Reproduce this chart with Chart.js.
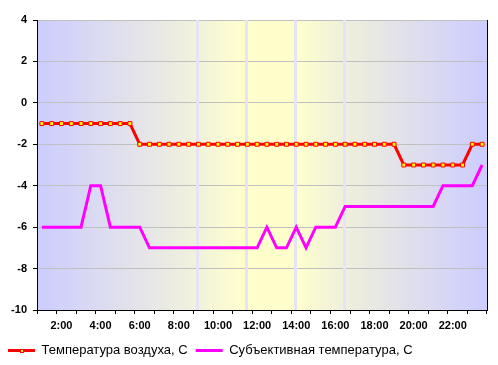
<!DOCTYPE html>
<html>
<head>
<meta charset="utf-8">
<script src="https://cdn.jsdelivr.net/npm/chart.js"></script>
<style>
  body { margin: 0; background: #fff; }
  canvas { display: block; }
</style>
</head>
<body>
<canvas id="tempChart" width="498" height="365"></canvas>
<script>
// half-hourly readings, 1:00 .. 23:30
const times = [];
for (let h = 1; h <= 23; h++) {
    times.push(h + ':00', h + ':30');
}

const airTemp = [
    -1, -1, -1, -1, -1, -1, -1, -1, -1, -1,
    -2, -2, -2, -2, -2, -2, -2, -2, -2, -2,
    -2, -2, -2, -2, -2, -2, -2, -2, -2, -2,
    -2, -2, -2, -2, -2, -2, -2,
    -3, -3, -3, -3, -3, -3, -3,
    -2, -2
];

const feltTemp = [
    -6, -6, -6, -6, -6, -4, -4, -6, -6, -6,
    -6, -7, -7, -7, -7, -7, -7, -7, -7, -7,
    -7, -7, -7, -6, -7, -7, -6, -7, -6, -6,
    -6, -5, -5, -5, -5, -5, -5, -5, -5, -5,
    -5, -4, -4, -4, -4, -3
];

const seriesNames = ['Температура воздуха, С', 'Субъективная температура, С'];
const yTicks = [-10, -8, -6, -4, -2, 0, 2, 4];

// light vertical bands in the plot background (category index units)
const bandMarks = [15.9, 20.9, 25.9, 30.9];

const tickFont = { family: 'Liberation Sans, Arial, sans-serif', size: 11, weight: 'bold' };

// Plot area background: blue at the edges, yellow around midday
const backgroundPlugin = {
    id: 'plotBackground',
    beforeDraw(chart) {
        const { ctx, chartArea: a } = chart;
        const g = ctx.createLinearGradient(a.left, 0, a.right, 0);
        g.addColorStop(0, '#ccccff');
        g.addColorStop(0.36, '#f2f2dc');
        g.addColorStop(0.46, '#ffffcc');
        g.addColorStop(0.57, '#ffffcc');
        g.addColorStop(0.68, '#f0f0dc');
        g.addColorStop(1, '#ccccff');
        ctx.save();
        ctx.fillStyle = g;
        ctx.fillRect(a.left, a.top, a.right - a.left, a.bottom - a.top);
        ctx.restore();
    },
    beforeDatasetsDraw(chart) {
        const { ctx, chartArea: a } = chart;
        const x = chart.scales.x;
        ctx.save();
        ctx.fillStyle = '#e4e4f6';
        bandMarks.forEach(v => {
            const px = Math.round(x.getPixelForValue(v));
            ctx.fillRect(px - 1, a.top, 3, a.bottom - a.top);
        });
        ctx.restore();
    },
    afterDatasetsDraw(chart) {
        const { ctx, chartArea: a } = chart;
        ctx.save();
        ctx.strokeStyle = '#000';
        ctx.lineWidth = 1;
        ctx.beginPath();
        ctx.moveTo(Math.round(a.right) + 0.5, a.top);
        ctx.lineTo(Math.round(a.right) + 0.5, a.bottom);
        ctx.stroke();
        ctx.restore();
    },
    afterDraw(chart) {
        // yellow marker in the middle of the first legend sample
        const box = chart.legend.legendHitBoxes[0];
        if (!box) return;
        const ctx = chart.ctx;
        const cx = Math.round(box.left + 13.5);
        const cy = Math.round(box.top + box.height / 2);
        ctx.save();
        ctx.fillStyle = '#ff0000';
        ctx.fillRect(cx - 2, cy - 2, 4, 4);
        ctx.fillStyle = '#ffff00';
        ctx.fillRect(cx - 1, cy - 1, 2, 2);
        ctx.restore();
    }
};

const ctx = document.getElementById('tempChart').getContext('2d');
const tempChart = new Chart(ctx, {
    type: 'line',
    data: {
        labels: times,
        datasets: [{
            label: seriesNames[0],
            data: airTemp,
            borderColor: '#ff0000',
            backgroundColor: '#ff0000',
            borderWidth: 3,
            pointStyle: 'rect',
            pointRadius: 2.8,
            pointBorderWidth: 1,
            pointBorderColor: '#ff0000',
            pointBackgroundColor: '#ffff00',
            tension: 0
        }, {
            label: seriesNames[1],
            data: feltTemp,
            borderColor: '#ff00ff',
            backgroundColor: '#ff00ff',
            borderWidth: 3,
            pointRadius: 0,
            tension: 0
        }]
    },
    options: {
        responsive: false,
        animation: false,
        layout: { padding: { top: 20, right: 11, left: 0, bottom: -2 } },
        scales: {
            x: {
                offset: true,
                grid: {
                    offset: true,
                    drawOnChartArea: false,
                    tickLength: 4,
                    tickColor: c => (c.type === 'scale' || c.index % 2 === 0) ? '#000' : 'rgba(0,0,0,0)'
                },
                border: { color: '#000', width: 1 },
                ticks: {
                    autoSkip: false,
                    maxRotation: 0,
                    color: '#000',
                    font: tickFont,
                    padding: 5,
                    callback: (v, i) => (i % 4 === 2 ? times[i] : '')
                },
                afterFit: s => { s.height = 26; }
            },
            y: {
                min: -10,
                max: 4,
                afterBuildTicks: s => { s.ticks = yTicks.map(v => ({ value: v })); },
                grid: { color: '#c0c0c0', tickColor: '#000', tickLength: 4 },
                border: { color: '#000', width: 1 },
                ticks: { color: '#000', font: tickFont, padding: 6 },
                afterFit: s => { s.width = 37; }
            }
        },
        plugins: {
            legend: {
                position: 'bottom',
                align: 'start',
                labels: {
                    color: '#000',
                    font: { family: 'Liberation Sans, Arial, sans-serif', size: 13 },
                    boxWidth: 27,
                    boxHeight: 3,
                    padding: 8,
                    generateLabels: chart =>
                        Chart.defaults.plugins.legend.labels.generateLabels(chart)
                            .map(item => Object.assign(item, { lineWidth: 0 }))
                }
            },
            tooltip: { enabled: false }
        }
    },
    plugins: [backgroundPlugin]
});
</script>
</body>
</html>
